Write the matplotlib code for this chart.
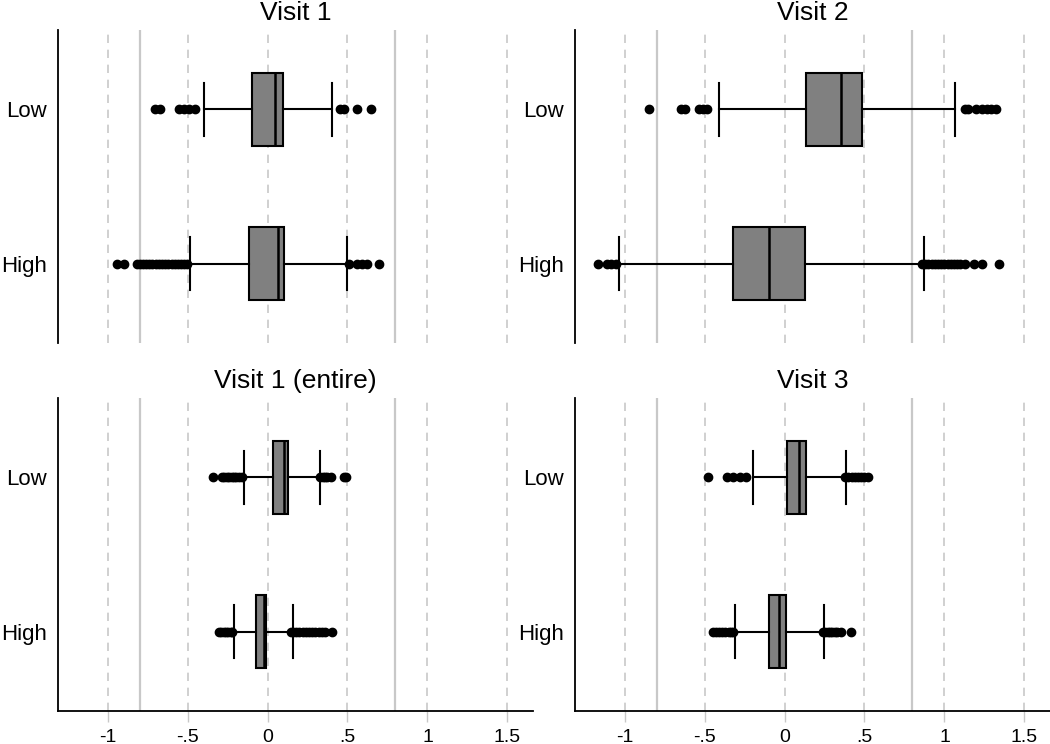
import numpy as np
import matplotlib
matplotlib.use("Agg")
import matplotlib.pyplot as plt

plt.rcParams['font.family'] = ['Liberation Sans', 'DejaVu Sans']

# ---------------------------------------------
# data
# ---------------------------------------------
titles = ["Visit 1", "Visit 2", "Visit 1 (entire)", "Visit 3"]
groups = ["High", "Low"]   # bottom to top

# per panel: [High, Low]
q1 = [[-0.117, -0.094], [-0.321, 0.137], [-0.075, 0.033], [-0.099, 0.017]]
med = [[0.064, 0.046], [-0.099, 0.354], [-0.023, 0.102], [-0.035, 0.089]]
q3 = [[0.106, 0.098], [0.128, 0.487], [-0.008, 0.129], [0.010, 0.137]]
whislo = [[-0.485, -0.398], [-1.035, -0.41], [-0.212, -0.144], [-0.309, -0.199]]
whishi = [[0.498, 0.402], [0.874, 1.066], [0.160, 0.329], [0.246, 0.383]]

fliers = [
    [
        [-0.944, -0.898, -0.815, -0.80, -0.78, -0.76, -0.74, -0.72, -0.70,
         -0.68, -0.66, -0.64, -0.62, -0.60, -0.58, -0.56, -0.54, -0.52, -0.502,
         0.508, 0.56, 0.59, 0.623, 0.696],
        [-0.704, -0.675, -0.554, -0.523, -0.492, -0.456,
         0.456, 0.477, 0.56, 0.644],
    ],
    [
        [-1.166, -1.108, -1.087, -1.056,
         0.859, 0.88, 0.90, 0.92, 0.94, 0.96, 0.98, 1.00, 1.02, 1.04, 1.06,
         1.08, 1.10, 1.128, 1.186, 1.232, 1.342],
        [-0.849, -0.646, -0.621, -0.532, -0.507, -0.483,
         1.128, 1.149, 1.20, 1.232, 1.263, 1.294, 1.325],
    ],
    [
        [-0.304, -0.29, -0.275, -0.26, -0.245, -0.23, -0.221,
         0.144, 0.16, 0.18, 0.20, 0.22, 0.24, 0.26, 0.28, 0.30, 0.32, 0.34,
         0.3625, 0.404],
        [-0.342, -0.283, -0.27, -0.255, -0.24, -0.225, -0.21, -0.195, -0.18,
         -0.158, 0.331, 0.345, 0.36, 0.375, 0.394, 0.477, 0.49],
    ],
    [
        [-0.445, -0.43, -0.41, -0.39, -0.37, -0.35, -0.335, -0.321,
         0.238, 0.255, 0.27, 0.285, 0.30, 0.315, 0.33, 0.352, 0.414],
        [-0.476, -0.362, -0.321, -0.28, -0.238,
         0.38, 0.40, 0.42, 0.44, 0.46, 0.48, 0.50, 0.52],
    ],
]

dash_lines = [-1, -0.5, 0, 0.5, 1, 1.5]
solid_lines = [-0.8, 0.8]
xtick_vals = [-1, -0.5, 0, 0.5, 1, 1.5]
xtick_labels = ["-1", "-.5", "0", ".5", "1", "1.5"]

# ---------------------------------------------
# figure
# ---------------------------------------------
fig = plt.figure(figsize=(10.5, 7.44), dpi=100)

W = 475 / 1050
H = 313 / 744
positions = [
    [58 / 1050, 1 - 343 / 744, W, H],
    [575 / 1050, 1 - 343 / 744, W, H],
    [58 / 1050, 1 - 711 / 744, W, H],
    [575 / 1050, 1 - 711 / 744, W, H],
]

for i in range(4):
    ax = fig.add_axes(positions[i])

    stats = []
    for g in range(2):
        stats.append({
            "q1": q1[i][g],
            "med": med[i][g],
            "q3": q3[i][g],
            "whislo": whislo[i][g],
            "whishi": whishi[i][g],
            "fliers": np.array(fliers[i][g]),
            "label": groups[g],
        })

    for v in dash_lines:
        ax.axvline(v, color="#c8c8c8", linestyle=(0, (5, 4)), linewidth=1.2, zorder=0)
    for v in solid_lines:
        ax.axvline(v, color="#c8c8c8", linestyle="-", linewidth=1.6, zorder=0)

    ax.bxp(
        stats,
        positions=[1, 2],
        vert=False,
        widths=0.48,
        capwidths=0.34,
        patch_artist=True,
        boxprops=dict(facecolor="#808080", edgecolor="black", linewidth=1.5),
        medianprops=dict(color="black", linewidth=1.8),
        whiskerprops=dict(color="black", linewidth=1.5),
        capprops=dict(color="black", linewidth=1.5),
        flierprops=dict(marker="o", markerfacecolor="black",
                        markeredgecolor="black", markersize=6),
    )

    ax.set_xlim(-1.31, 1.66)
    ax.set_ylim(0.484, 2.516)
    ax.set_title(titles[i], fontsize=19, pad=7)

    for s in ["top", "right"]:
        ax.spines[s].set_visible(False)
    ax.spines["left"].set_linewidth(1.3)
    ax.tick_params(axis="y", length=0, labelsize=16, pad=8)

    if i < 2:
        ax.spines["bottom"].set_visible(False)
        ax.set_xticks([])
    else:
        ax.spines["bottom"].set_linewidth(1.3)
        ax.set_xticks(xtick_vals)
        ax.set_xticklabels(xtick_labels)
        ax.tick_params(axis="x", length=8, width=1, color="#c8c8c8",
                       labelsize=14, pad=5)

fig.savefig("out.png", dpi=100)
